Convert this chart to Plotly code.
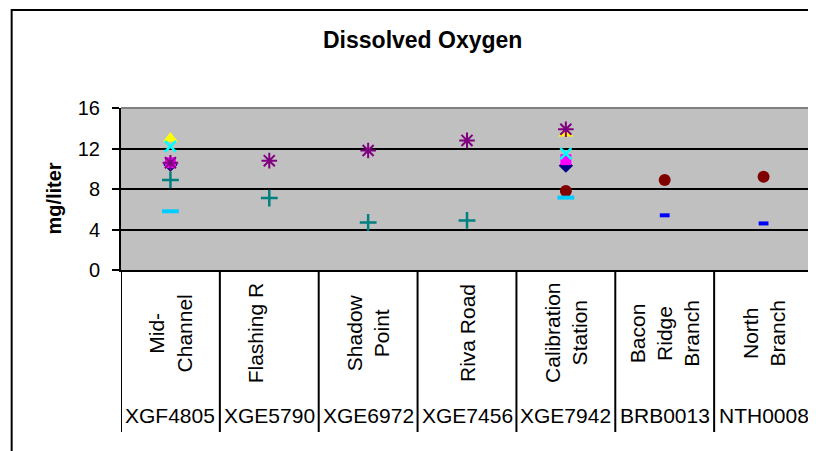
import plotly.graph_objects as go

stations = ["XGF4805", "XGE5790", "XGE6972", "XGE7456", "XGE7942", "BRB0013", "NTH0008"]
names = ["Mid-<br>Channel", "Flashing R<br> ", "Shadow<br>Point", "Riva Road",
         "Calibration<br>Station", "Bacon<br>Ridge<br>Branch", "North<br>Branch"]
y_ticks = [0, 4, 8, 12, 16]

# series values (None = no sample)
s1_diamond = [10.4, None, None, None, 10.3, None, None]
s2_square = [10.6, None, None, None, 10.9, None, None]
s3_triangle = [13.0, None, None, None, 13.5, None, None]
s4_x = [12.2, None, None, None, 11.5, None, None]
s5_star = [10.6, 10.8, 11.8, 12.8, 13.9, None, None]
s6_circle = [None, None, None, None, 7.8, 8.9, 9.2]
s7_plus = [8.9, 7.1, 4.7, 4.9, None, None, None]
s8_dash = [None, None, None, None, None, 5.4, 4.6]
s9_longdash = [5.8, None, None, None, 7.15, None, None]

series = [
    (s1_diamond, dict(symbol="diamond", size=11, color="#000080")),
    (s2_square, dict(symbol="square", size=11, color="#FF00FF")),
    (s3_triangle, dict(symbol="triangle-up", size=13, color="#FFFF00")),
    (s4_x, dict(symbol="x-thin-open", size=11, color="#00FFFF", line=dict(color="#00FFFF", width=2.5))),
    (s5_star, dict(symbol="asterisk-open", size=13, color="#800080", line=dict(color="#800080", width=2))),
    (s6_circle, dict(symbol="circle", size=12, color="#800000")),
    (s7_plus, dict(symbol="cross-thin-open", size=12, color="#008080", line=dict(color="#008080", width=2.5))),
    (s8_dash, dict(symbol="line-ew-open", size=7, color="#0000FF", line=dict(color="#0000FF", width=4))),
    (s9_longdash, dict(symbol="line-ew-open", size=12, color="#00CCFF", line=dict(color="#00CCFF", width=4))),
]

FONT = "Liberation Sans, Arial, sans-serif"

fig = go.Figure()
for vals, mk in series:
    fig.add_trace(go.Scatter(x=stations, y=vals, mode="markers", marker=mk,
                             showlegend=False, hoverinfo="skip", cliponaxis=False))

# plot-area top/right border (grey)
fig.add_shape(type="line", xref="paper", yref="paper", x0=0, x1=1, y0=1, y1=1,
              line=dict(color="#808080", width=2))
fig.add_shape(type="line", xref="paper", yref="paper", x0=1, x1=1, y0=0, y1=1,
              line=dict(color="#808080", width=2))

# category table dividers
for i in range(len(stations) + 1):
    fig.add_shape(type="line", xref="x", yref="paper", x0=i - 0.5, x1=i - 0.5,
                  y0=0, y1=-1.0, line=dict(color="black", width=2))

# outer chart border
fig.add_shape(type="rect", xref="paper", yref="paper", x0=-0.158, x1=1.3, y0=1.605, y1=-2,
              line=dict(color="black", width=2), fillcolor="rgba(0,0,0,0)")

ann = []
for st, nm in zip(stations, names):
    ann.append(dict(x=st, xref="x", y=-0.389, yref="paper", text=nm, textangle=-90,
                    showarrow=False, xanchor="center", yanchor="middle", align="center",
                    font=dict(family=FONT, size=21, color="black")))
    ann.append(dict(x=st, xref="x", y=-0.901, yref="paper", text=st,
                    showarrow=False, xanchor="center", yanchor="middle",
                    font=dict(family=FONT, size=21, color="black")))

ann.append(dict(x=0.435, xref="paper", y=1.42, yref="paper", text="<b>Dissolved Oxygen</b>",
                showarrow=False, xanchor="center", yanchor="middle",
                font=dict(family=FONT, size=23, color="black")))
ann.append(dict(x=-0.097, xref="paper", y=0.44, yref="paper", text="<b>mg/liter</b>",
                textangle=-90, showarrow=False, xanchor="center", yanchor="middle",
                font=dict(family=FONT, size=20, color="black")))

fig.update_layout(
    width=808, height=443,
    margin=dict(l=113, r=3, t=100, b=181),
    paper_bgcolor="white", plot_bgcolor="#C0C0C0",
    annotations=ann,
    xaxis=dict(type="category", range=[-0.5, 6.5], showticklabels=False, ticks="",
               showgrid=False, showline=True, linecolor="black", linewidth=2, zeroline=False),
    yaxis=dict(range=[0, 16], tickvals=y_ticks, ticks="outside", ticklen=7, tickwidth=1.5,
               tickcolor="black", showline=True, linecolor="black", linewidth=2,
               showgrid=True, gridcolor="black", gridwidth=1.5, zeroline=False,
               ticklabelstandoff=8,
               tickfont=dict(family=FONT, size=20, color="black")),
)

fig.write_html("out.html")
